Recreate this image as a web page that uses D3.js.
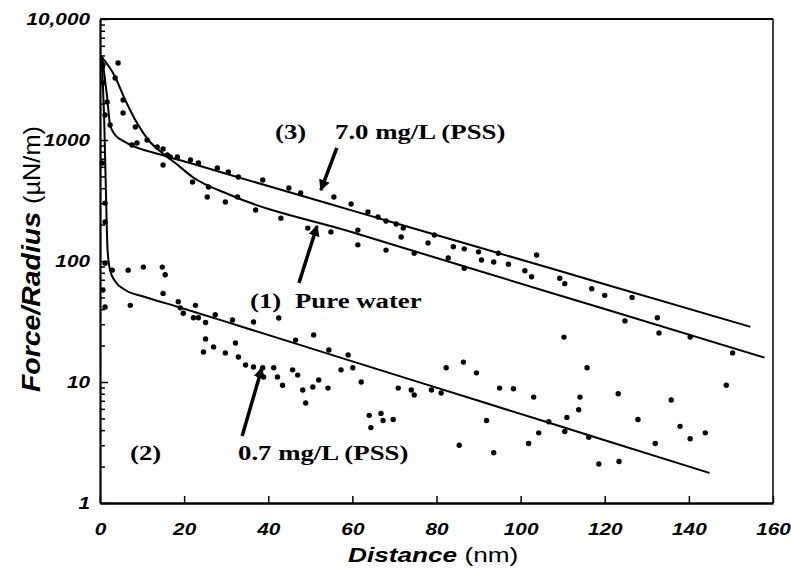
<!DOCTYPE html>
<html>
<head>
<meta charset="utf-8">
<script src="https://cdn.jsdelivr.net/npm/d3@7"></script>
<style>
body { margin:0; background:#fff; }
text { fill:#000; }
</style>
</head>
<body>
<div id="chart"></div>
<script>
// axis ticks
var xTicks = [0, 20, 40, 60, 80, 100, 120, 140, 160]
var yTicks = [1, 10, 100, 1000, 10000]
var yTickLabels = ['1', '10', '100', '1000', '10,000']

// fitted curves, [distance nm, force/radius uN/m]
var fitPure = [[0.3,4900],[3.6,3320],[6.0,2140],[8.8,1380],[11.5,1000],[14.8,780],[17.9,645],[22,495],[31,351],[60,173],[90,83],[120,40.1],[158,15.9]]
var fitLow = [[0.35,4950],[1.0,1462],[1.4,386],[1.8,123],[2.4,84],[3.6,68],[6.0,57.6],[10.7,50.4],[18.6,41.7],[33.9,28.5],[60,14.8],[90,7.0],[120,3.3],[144.9,1.77]]
var fitHigh = [[0.5,4900],[1.2,3130],[1.7,2265],[2.4,1330],[3.6,1100],[6.0,962],[15,749],[22,636],[31,514],[60,261],[90,130],[120,64.3],[154.6,28.6]]

// measured points
var ptsPure = [[0.7,2960],[1.7,2060],[0.5,646],[5.5,1670],[8.4,1280],[15.0,621],[16.0,751],[22.0,450],[25.8,409],[25.5,338],[29.8,307],[32.7,338],[37.0,264],[43.0,226],[49.4,187],[54.9,174],[61.3,180],[61.3,136],[68.0,123],[74.7,116],[82.8,106],[86.6,87],[110.3,23.5],[124.8,32],[132.9,25.4],[140.3,23.5],[150.4,17.4],[1.2,301],[1.2,210]]
var ptsHigh = [[0.7,4170],[4.3,4330],[3.6,3250],[5.5,2140],[1.2,1610],[2.4,1330],[7.6,910],[8.8,945],[11.2,1000],[13.6,875],[15.0,843],[16.7,724],[18.4,724],[21.5,684],[23.4,646],[27.9,587],[30.5,544],[32.9,494],[38.7,467],[44.9,401],[47.7,365],[55.6,338],[59.7,296],[63.7,254],[66.1,231],[68.0,214],[70.4,202],[72.1,187],[71.6,158],[78.0,141],[79.5,164],[84.0,131],[86.6,126],[90.0,119],[93.6,98],[94.7,116],[97.1,94],[103.8,112],[101.0,83],[102.6,74],[109.3,72],[110.5,65],[116.9,59],[120.0,52],[126.5,50],[132.5,34],[90.7,102]]
var ptsLow = [[1.2,96],[1.2,41.7],[0.7,57.5],[2.9,84],[6.7,84],[10.3,89],[14.8,89],[15.5,77],[15.0,54],[7.2,43],[18.6,46],[19.1,41],[19.8,37],[22.7,43],[22.2,34],[23.4,34],[25.1,31],[27.4,36],[31.5,32.5],[36.5,31.3],[42.5,33.8],[46.5,22.2],[50.8,24.5],[54.4,18.4],[59.0,16.7],[60.1,13.1],[57.3,12.6],[62.1,10],[25.1,22.7],[24.6,17.7],[27.0,19.5],[29.8,17.4],[32.2,21],[32.9,16.1],[34.6,13.8],[36.5,13.3],[38.7,13.1],[38.9,11],[41.3,13.1],[42.2,11],[43.4,9.4],[45.8,12.6],[47.0,11.4],[48.2,8.6],[48.9,6.7],[50.6,9.1],[52.0,10.4],[54.2,8.9],[64.0,5.3],[66.8,5.5],[67.3,4.8],[69.7,4.9],[64.4,4.2],[70.9,8.9],[74.0,8.6],[74.7,7.8],[78.8,8.6],[81.1,8.1],[82.3,13.1],[86.4,14.6],[89.5,11.9],[91.9,4.8],[95.0,8.9],[85.4,3.0],[93.6,2.6],[98.3,8.8],[103.1,7.5],[114.1,7.5],[113.8,5.9],[111.0,5.1],[104.3,3.8],[101.9,3.1],[106.7,4.7],[110.5,3.9],[116.2,3.5],[118.6,2.1],[123.4,2.2],[123.2,8.0],[127.9,4.9],[132.0,3.1],[135.8,7.1],[137.9,4.3],[140.3,3.4],[143.9,3.8],[148.9,9.4],[115.8,13.1]]

// arrows: [tail, tip] in data units
var arrows = [
    [[56.3,859],[52.5,386]],
    [[47.3,65.8],[51.6,195]],
    [[33.8,3.58],[38.5,13.1]]
]

var W = 791, H = 569
var m = { top:19, right:18, bottom:66, left:100 }
var w = W - m.left - m.right
var h = H - m.top - m.bottom

var svg = d3.select('#chart').append('svg')
    .attr('width', W)
    .attr('height', H)

var g = svg.append('g')
    .attr('transform', 'translate(' + m.left + ',' + m.top + ')')

var x = d3.scaleLinear().domain([0, 160]).range([0, w])
var y = d3.scaleLog().domain([1, 10000]).range([h, 0])

var sx = 1.3  // the scan is stretched sideways

// frame top / right
g.append('line')
    .attr('x1', x(0)).attr('x2', x(160))
    .attr('y1', y(10000)).attr('y2', y(10000))
    .style('stroke', '#000').style('stroke-width', 2)
g.append('line')
    .attr('x1', x(160)).attr('x2', x(160))
    .attr('y1', y(10000)).attr('y2', y(1))
    .style('stroke', '#000').style('stroke-width', 1.5)

// minor y ticks
var minor = []
for (var d = 1; d < 10000; d *= 10)
    for (var k = 2; k < 10; k++) minor.push(d * k)

g.append('g')
    .call(d3.axisLeft(y).tickValues(minor).tickSizeInner(-5).tickSizeOuter(0).tickFormat(''))
    .call(a => a.select('.domain').remove())
    .selectAll('line').style('stroke-width', 1.5)

// major y ticks + labels
var yAxis = g.append('g')
    .call(d3.axisLeft(y).tickValues(yTicks).tickSizeInner(-8).tickSizeOuter(0)
        .tickFormat((d, i) => yTickLabels[i]))
yAxis.select('.domain').style('stroke-width', 2.2)
yAxis.selectAll('line').style('stroke-width', 1.5)
yAxis.selectAll('text')
    .attr('x', -10 / sx)
    .attr('dy', '0.36em')
    .attr('transform', 'scale(' + sx + ',1)')
    .style('font-family', '"Liberation Sans", Arial, sans-serif')
    .style('font-size', '16px')
    .style('font-weight', 'bold')
    .style('font-style', 'italic')

// x axis
var xAxis = g.append('g')
    .attr('transform', 'translate(0,' + h + ')')
    .call(d3.axisBottom(x).tickValues(xTicks).tickSizeInner(-7).tickSizeOuter(0))
xAxis.select('.domain').style('stroke-width', 2.5)
xAxis.selectAll('line').style('stroke-width', 1.5)
xAxis.selectAll('text')
    .attr('y', 32)
    .attr('dy', 0)
    .attr('transform', 'scale(' + sx + ',1)')
    .style('font-family', '"Liberation Sans", Arial, sans-serif')
    .style('font-size', '16px')
    .style('font-weight', 'bold')
    .style('font-style', 'italic')

// axis titles
var xt = svg.append('text')
    .attr('transform', 'translate(348,562) scale(1.31,1)')
    .style('font-family', '"Liberation Sans", Arial, sans-serif')
    .style('font-size', '20px')
xt.append('tspan').text('Distance').style('font-weight', 'bold').style('font-style', 'italic')
xt.append('tspan').text(' (nm)')

var yt = svg.append('g').attr('transform', 'translate(40,392) rotate(-90)')
yt.append('text')
    .attr('x', 0)
    .attr('textLength', 180)
    .attr('lengthAdjust', 'spacingAndGlyphs')
    .style('font-family', '"Liberation Sans", Arial, sans-serif')
    .style('font-size', '26px')
    .style('font-weight', 'bold')
    .style('font-style', 'italic')
    .text('Force/Radius')
yt.append('text')
    .attr('x', 188)
    .attr('textLength', 78)
    .attr('lengthAdjust', 'spacingAndGlyphs')
    .style('font-family', '"Liberation Sans", Arial, sans-serif')
    .style('font-size', '24px')
    .text('(\u00b5N/m)')

// fitted lines
var line = d3.line()
    .x(d => x(d[0]))
    .y(d => y(d[1]))
    .curve(d3.curveMonotoneX)

;[fitPure, fitLow, fitHigh].forEach(f => {
    g.append('path')
        .datum(f)
        .attr('d', line)
        .style('fill', 'none')
        .style('stroke', '#000')
        .style('stroke-width', 2)
})

// points
;[ptsPure, ptsHigh, ptsLow].forEach(p => {
    g.append('g').selectAll('circle')
        .data(p)
      .enter().append('circle')
        .attr('cx', d => x(d[0]))
        .attr('cy', d => y(d[1]))
        .attr('r', 2.7)
        .style('fill', '#000')
})

// arrows
svg.append('defs').append('marker')
    .attr('id', 'head')
    .attr('viewBox', '0 0 10 10')
    .attr('refX', 9).attr('refY', 5)
    .attr('markerWidth', 3.2).attr('markerHeight', 3.2)
    .attr('markerUnits', 'strokeWidth')
    .attr('orient', 'auto')
  .append('path')
    .attr('d', 'M0,0 L10,5 L0,10 z')
    .style('fill', '#000')

arrows.forEach(a => {
    g.append('line')
        .attr('x1', x(a[0][0])).attr('y1', y(a[0][1]))
        .attr('x2', x(a[1][0])).attr('y2', y(a[1][1]))
        .style('stroke', '#000')
        .style('stroke-width', 3.5)
        .attr('marker-end', 'url(#head)')
})

// labels
var labels = [
    { t:'(3)', x:275, y:139 },
    { t:'7.0 mg/L (PSS)', x:335, y:139 },
    { t:'(1)', x:250, y:308 },
    { t:'Pure water', x:295, y:308 },
    { t:'(2)', x:130, y:460 },
    { t:'0.7 mg/L (PSS)', x:238, y:460 }
]
svg.append('g').selectAll('text')
    .data(labels)
  .enter().append('text')
    .attr('transform', d => 'translate(' + d.x + ',' + d.y + ') scale(1.34,1)')
    .style('font-family', '"Liberation Serif", "Times New Roman", serif')
    .style('font-size', '20px')
    .style('font-weight', 'bold')
    .text(d => d.t)
</script>
</body>
</html>
